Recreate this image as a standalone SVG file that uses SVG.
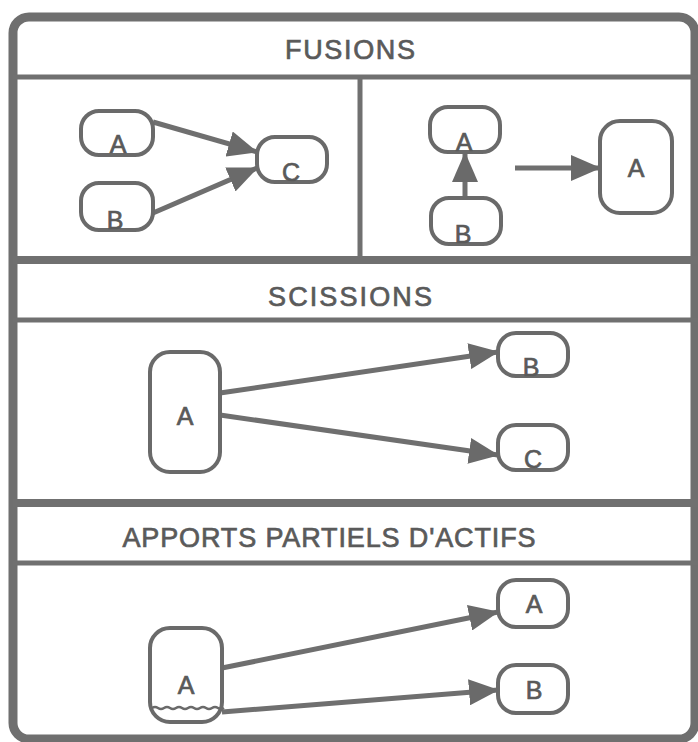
<svg xmlns="http://www.w3.org/2000/svg" width="698" height="742" viewBox="0 0 698 742">
<style>
.frame{fill:none;stroke:#6f6f6f;stroke-width:9}
.rule{stroke:#707070;stroke-width:5}
.rule.thick{stroke-width:8}
.node{fill:none;stroke:#6a6a6a;stroke-width:4}
.head{font-family:"Liberation Sans",Arial,sans-serif;font-size:27px;fill:#5a5a5a;stroke:#5a5a5a;stroke-width:0.7;text-anchor:middle}
.lbl{font-family:"Liberation Sans",Arial,sans-serif;font-size:25px;fill:#5a5a5a;stroke:#5a5a5a;stroke-width:0.7;text-anchor:middle}
.edge{stroke:#6f6f6f;stroke-width:5;fill:none}
</style>
<defs>
<marker id="ah" viewBox="0 0 30 26" refX="29" refY="13" markerWidth="30" markerHeight="26" markerUnits="userSpaceOnUse" orient="auto">
<path d="M0,0 L30,13 L0,26 Z" fill="#6a6a6a"/>
</marker>
</defs>
<rect width="698" height="742" fill="#ffffff"/>
<g id="frame">
<rect class="frame" x="13" y="17" width="682" height="722" rx="16"/>
<line class="rule" x1="13" y1="77" x2="698" y2="77"/>
<line class="rule" x1="360" y1="77" x2="360" y2="260"/>
<line class="rule thick" x1="13" y1="260" x2="698" y2="260"/>
<line class="rule" x1="13" y1="320" x2="698" y2="320"/>
<line class="rule thick" x1="13" y1="503" x2="698" y2="503"/>
<line class="rule" x1="13" y1="563" x2="698" y2="563"/>
</g>
<g id="headers">
<text class="head" x="350" y="59" textLength="130" lengthAdjust="spacing">FUSIONS</text>
<text class="head" x="350" y="306" textLength="164" lengthAdjust="spacing">SCISSIONS</text>
<text class="head" x="329" y="547" textLength="413" lengthAdjust="spacing">APPORTS PARTIELS D'ACTIFS</text>
</g>
<g id="connectors">
<line class="edge" x1="153" y1="122" x2="257" y2="152" marker-end="url(#ah)"/>
<line class="edge" x1="153" y1="213" x2="257" y2="168" marker-end="url(#ah)"/>
<line class="edge" x1="465" y1="198" x2="465" y2="153" marker-end="url(#ah)"/>
<line class="edge" x1="515" y1="168" x2="600" y2="168" marker-end="url(#ah)"/>
<line class="edge" x1="220" y1="393" x2="498" y2="352" marker-end="url(#ah)"/>
<line class="edge" x1="220" y1="415" x2="498" y2="455" marker-end="url(#ah)"/>
<line class="edge" x1="222" y1="668" x2="498" y2="612" marker-end="url(#ah)"/>
<line class="edge" x1="222" y1="712" x2="498" y2="690" marker-end="url(#ah)"/>
</g>
<g id="f-a"><rect class="node" x="81" y="111" width="72" height="44" rx="18"/><text class="lbl" x="118" y="153">A</text></g>
<g id="f-b"><rect class="node" x="81" y="183" width="72" height="47" rx="18"/><text class="lbl" x="115" y="229">B</text></g>
<g id="f-c"><rect class="node" x="257" y="137" width="70" height="45" rx="18"/><text class="lbl" x="291" y="181">C</text></g>
<g id="f2-a"><rect class="node" x="430" y="107" width="70" height="45" rx="18"/><text class="lbl" x="464" y="151">A</text></g>
<g id="f2-b"><rect class="node" x="431" y="198" width="70" height="46" rx="18"/><text class="lbl" x="463" y="243">B</text></g>
<g id="f2-res"><rect class="node" x="600" y="121" width="72" height="92" rx="20"/><text class="lbl" x="636" y="177">A</text></g>
<g id="s-a"><rect class="node" x="150" y="352" width="70" height="120" rx="20"/><text class="lbl" x="185" y="425">A</text></g>
<g id="s-b"><rect class="node" x="498" y="333" width="70" height="43" rx="18"/><text class="lbl" x="531" y="376">B</text></g>
<g id="s-c"><rect class="node" x="498" y="425" width="70" height="45" rx="18"/><text class="lbl" x="533" y="468">C</text></g>
<g id="a-a"><rect class="node" x="150" y="628" width="72" height="94" rx="20"/><text class="lbl" x="186" y="694">A</text><path d="M152,708 q3,-2 6,0 t6,0 t6,0 t6,0 t6,0 t6,0 t6,0 t6,0 t6,0 t6,0 t6,0 t6,0" fill="none" stroke="#6a6a6a" stroke-width="2.5"/></g>
<g id="a-a2"><rect class="node" x="498" y="580" width="70" height="47" rx="18"/><text class="lbl" x="534" y="613">A</text></g>
<g id="a-b"><rect class="node" x="498" y="665" width="70" height="48" rx="18"/><text class="lbl" x="534" y="699">B</text></g>
</svg>
